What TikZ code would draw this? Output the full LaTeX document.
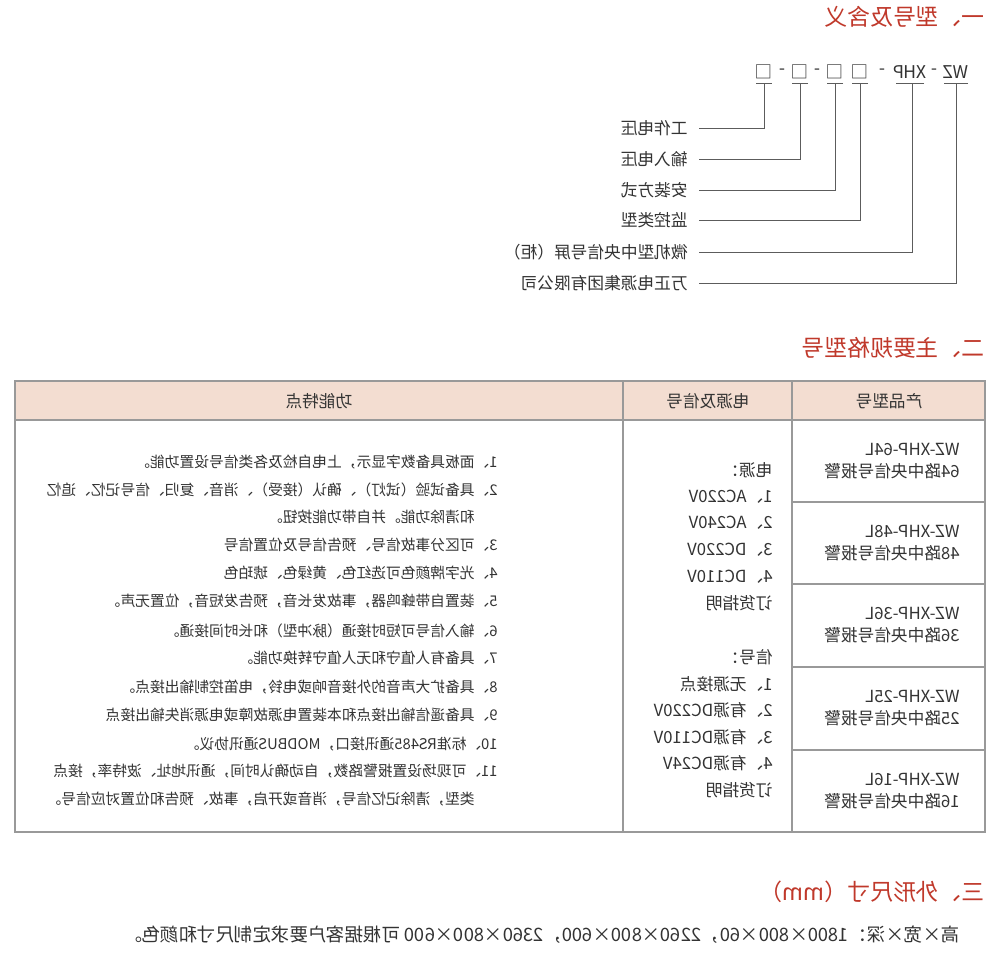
\documentclass[tikz,border=0pt]{standalone}
\usepackage{fontspec}
\setmainfont{Noto Sans CJK SC}
\definecolor{hred}{HTML}{C0392B}
\definecolor{txt}{HTML}{333333}
\definecolor{hdr}{HTML}{F3DDD1}
\definecolor{grid}{HTML}{999999}
\begin{document}
\begin{tikzpicture}[x=0.02cm,y=-0.02cm,
  head/.style={anchor=west,text=hred,font=\fontsize{13}{15}\selectfont,inner sep=0},
  body/.style={anchor=west,text=txt,font=\fontsize{8.4}{10}\selectfont,inner sep=0},
  cd/.style={text=txt,font=\fontsize{10}{11}\selectfont,inner sep=0},
  ln/.style={draw=txt!80,line width=0.5pt}]
\begin{scope}[xscale=-1,transform shape]
\useasboundingbox (0,0) rectangle (1000,967);
\fill[white] (0,0) rectangle (1000,967);
% section 1
\node[head] (h1) at (15,17) {一、型号及含义};
\foreach \n/\t/\xx in {k1/WZ/44,k2/-/66,k3/XHP/90,k4/-/118,k5/□/140,k6/□/165,k7/-/183,k8/□/200,k9/-/218,k10/□/236}{
  \node[cd] (\n) at (\xx,72) {\t};}
\foreach \n/\a/\b in {u1/32/56,u2/76/104,u3/132/148,u4/157/173,u5/192/208,u6/228/244}{
  \draw[ln] (\a,83) -- (\b,83);}
\foreach \n/\t/\y/\xx in {l1/工作电压/128/236,l2/输入电压/159/200,l3/安装方式/190/165,l4/监控类型/220/140,l5/{微机型中央信号屏（柜）}/252/88,l6/万正电源集团有限公司/283/44}{
  \node[body,font=\fontsize{9.5}{11}\selectfont] (\n) at (312,\y) {\t};
  \coordinate (\n t) at (\xx,83);
  \draw[ln] (\n t) |- (301,\y);}
% section 2
\node[head] (h2) at (15,348) {二、主要规格型号};
\fill[hdr] (15,381) rectangle (985,420);
\draw[grid,line width=0.6pt] (15,381) rectangle (985,832);
\draw[grid,line width=0.6pt] (15,420) -- (985,420) (208,381) -- (208,832) (377,381) -- (377,832);
\foreach \y in {502,584,667,750}{\draw[grid,line width=0.6pt] (15,\y) -- (208,\y);}
\node[body,anchor=center,font=\fontsize{9.5}{11}\selectfont] (c1) at (111,401) {产品型号};
\node[body,anchor=center,font=\fontsize{9.5}{11}\selectfont] (c2) at (292,401) {电源及信号};
\node[body,anchor=center,font=\fontsize{9.5}{11}\selectfont] (c3) at (681,401) {功能特点};
\foreach \n/\k/\y in {m1/64/461,m2/48/543,m3/36/625,m4/25/708,m5/16/791}{
  \node[body,align=left,font=\fontsize{9.5}{12.5}\selectfont] (\n) at (40,\y) {WZ-XHP-\k L\\\k 路中央信号报警};}
\foreach \n/\t/\y in {p1/电源：/470,p2/1、AC220V/497,p3/2、AC240V/523,p4/3、DC220V/550,p5/4、DC110V/577,p6/订货指明/603,
  s1/信号：/657,s2/1、无源接点/684,s3/2、有源DC220V/710,s4/3、有源DC110V/737,s5/4、有源DC24V/763,s6/订货指明/790}{
  \node[body,font=\fontsize{9.5}{11}\selectfont] (\n) at (227,\y) {\t};}
\foreach \n/\t/\y/\xx in {
 f1/1、面板具备数字显示，上电自检及各类信号设置功能。/462/502,
 f2/2、具备试验（试灯）、确认（接受）、消音、复归、信号记忆、追忆/490/502,
 f2b/和清除功能。并自带功能按钮。/517/525,
 f3/3、可区分事故信号、预告信号及位置信号/545/502,
 f4/4、光字牌颜色可选红色、黄绿色、琥珀色/573/502,
 f5/5、装置自带蜂鸣器，事故发长音，预告发短音，位置无声。/601/502,
 f6/6、输入信号可短时接通（脉冲型）和长时间接通。/631/502,
 f7/7、具备有人值守和无人值守转换功能。/658/502,
 f8/8、具备扩大声音的外接音响或电铃，电笛控制输出接点。/687/502,
 f9/9、具备遥信输出接点和本装置电源故障或电源消失输出接点/715/502,
 f10/10、标准RS485通讯接口，MODBUS通讯协议。/744/502,
 f11/11、可现场设置报警路数，自动确认时间，通讯地址、波特率，接点/771/502,
 f11b/类型，清除记忆信号，消音或开启，事故、预告和位置对应信号。/799/525}{
  \node[body] (\n) at (\xx,\y) {\t};}
% section 3
\node[head] (h3) at (15,892) {三、外形尺寸（mm）};
\node[body,font=\fontsize{10.5}{12}\selectfont] (d) at (40,935) {高×宽×深：1800×800×60，2260×800×600，2360×800×600 可根据客户要求定制尺寸和颜色。};
\end{scope}
\end{tikzpicture}
\end{document}
